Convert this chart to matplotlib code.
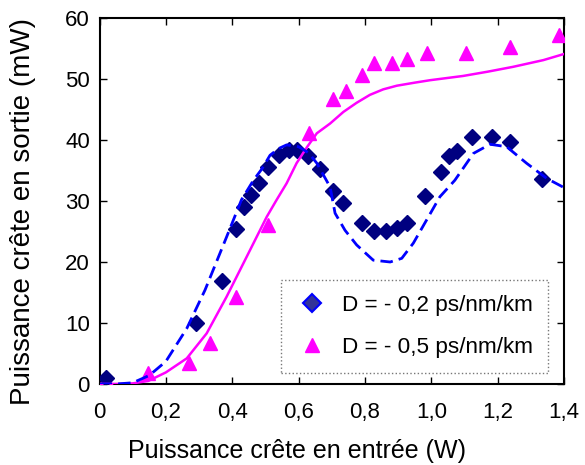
import matplotlib
matplotlib.use("Agg")
import matplotlib.pyplot as plt
from matplotlib.lines import Line2D
from matplotlib.ticker import FuncFormatter

plt.rcParams['font.family'] = ['Liberation Sans', 'DejaVu Sans']

# measured points, D = -0.2 ps/nm/km (diamonds)
p_in_02 = [0.02, 0.29, 0.37, 0.41, 0.435, 0.456, 0.48, 0.509, 0.541, 0.571, 0.596,
           0.629, 0.665, 0.705, 0.735, 0.792, 0.827, 0.864, 0.896, 0.928, 0.981,
           1.029, 1.053, 1.078, 1.122, 1.182, 1.238, 1.335]
p_out_02 = [1.0, 10.0, 16.9, 25.4, 29.0, 31.0, 33.0, 35.6, 37.6, 38.4, 38.4,
            37.4, 35.2, 31.7, 29.7, 26.4, 25.1, 25.1, 25.5, 26.4, 30.8,
            34.7, 37.3, 38.2, 40.5, 40.5, 39.6, 33.6]

# measured points, D = -0.5 ps/nm/km (triangles)
p_in_05 = [0.02, 0.147, 0.27, 0.333, 0.41, 0.509, 0.631, 0.705, 0.742, 0.79,
           0.827, 0.882, 0.926, 0.986, 1.104, 1.238, 1.385]
p_out_05 = [0.8, 1.75, 3.5, 6.7, 14.2, 26.1, 41.1, 46.7, 48.0, 50.7,
            52.6, 52.6, 53.3, 54.2, 54.2, 55.2, 57.2]

# simulation, D = -0.2 (dashed)
sim_x_02 = [0.0, 0.05, 0.1, 0.15, 0.2, 0.263, 0.318, 0.383, 0.428, 0.464, 0.49,
            0.514, 0.54, 0.564, 0.6, 0.63, 0.655, 0.695, 0.71, 0.74, 0.775,
            0.825, 0.876, 0.911, 0.946, 0.986, 1.026, 1.071, 1.127, 1.177,
            1.227, 1.287, 1.348, 1.4]
sim_y_02 = [0.0, 0.0, 0.2, 1.4, 3.7, 9.1, 15.4, 24.1, 30.2, 33.4, 35.3,
            37.5, 38.6, 39.2, 38.9, 37.9, 36.2, 32.3, 28.0, 25.2, 22.8,
            20.3, 20.0, 20.6, 23.1, 26.9, 30.7, 33.4, 37.8, 39.3,
            38.9, 36.2, 33.7, 32.2]

# simulation, D = -0.5 (solid)
sim_x_05 = [0.0, 0.05, 0.1, 0.147, 0.2, 0.263, 0.323, 0.383, 0.444, 0.504,
            0.534, 0.564, 0.594, 0.625, 0.655, 0.695, 0.735, 0.775, 0.815,
            0.855, 0.896, 0.95, 0.996, 1.096, 1.17, 1.247, 1.338, 1.4]
sim_y_05 = [0.0, 0.0, 0.1, 0.5, 1.9, 4.2, 8.3, 14.3, 20.9, 27.4,
            30.2, 32.9, 36.2, 38.8, 41.1, 42.7, 44.6, 46.1, 47.4,
            48.3, 48.9, 49.4, 49.8, 50.5, 51.2, 52.0, 53.1, 54.1]

labels = ['D = - 0,2 ps/nm/km', 'D = - 0,5 ps/nm/km']

fig = plt.figure(figsize=(5.85, 4.65), dpi=100)
ax = fig.add_axes([99.5 / 585, 81 / 465, 464.5 / 585, 366 / 465])

ax.plot(p_in_05, p_out_05, linestyle='none', marker='^', markersize=10,
        color='#FF00FF', zorder=3)
ax.plot(p_in_02, p_out_02, linestyle='none', marker='D', markersize=8,
        color='#000080', zorder=3)
ax.plot(sim_x_05, sim_y_05, '-', color='#FF00FF', linewidth=1.8, zorder=4)
ax.plot(sim_x_02, sim_y_02, '--', color='#0000FF', linewidth=2.0,
        dashes=(4.5, 2.2), zorder=4)

ax.set_xlim(0, 1.4)
ax.set_ylim(0, 60)
ax.set_xticks([0, 0.2, 0.4, 0.6, 0.8, 1.0, 1.2, 1.4])
ax.set_yticks([0, 10, 20, 30, 40, 50, 60])
ax.xaxis.set_major_formatter(FuncFormatter(
    lambda v, pos: '0' if v == 0 else f'{v:.1f}'.replace('.', ',')))
ax.tick_params(direction='in', top=True, right=True, length=5, width=1,
               labelsize=16)
ax.tick_params(axis='x', pad=13)
ax.tick_params(axis='y', pad=7)
for s in ax.spines.values():
    s.set_linewidth(1.5)

fig.text(297 / 585, 1 - 458 / 465, 'Puissance crête en entrée (W)',
         fontsize=18, ha='center', va='baseline')
fig.text(23 / 585, 1 - 211.5 / 465, 'Puissance crête en sortie (mW)',
         fontsize=20, rotation=90, ha='center', va='center')

handles = [Line2D([], [], linestyle='none', marker='D', markersize=9,
                  markerfacecolor='#333399', markeredgecolor='#0000FF',
                  markeredgewidth=1.5),
           Line2D([], [], linestyle='none', marker='^', markersize=10,
                  color='#FF00FF')]
leg = ax.legend(handles, labels, loc='lower right', fontsize=16.2,
                bbox_to_anchor=(0.965, 0.03),
                frameon=True, fancybox=False,
                borderpad=0.66, labelspacing=0.95, handletextpad=0.64,
                handlelength=1.4, borderaxespad=0)
leg.get_frame().set_edgecolor('#555555')
leg.get_frame().set_linestyle(':')
leg.get_frame().set_linewidth(1.0)

fig.savefig('out.png', dpi=100)
